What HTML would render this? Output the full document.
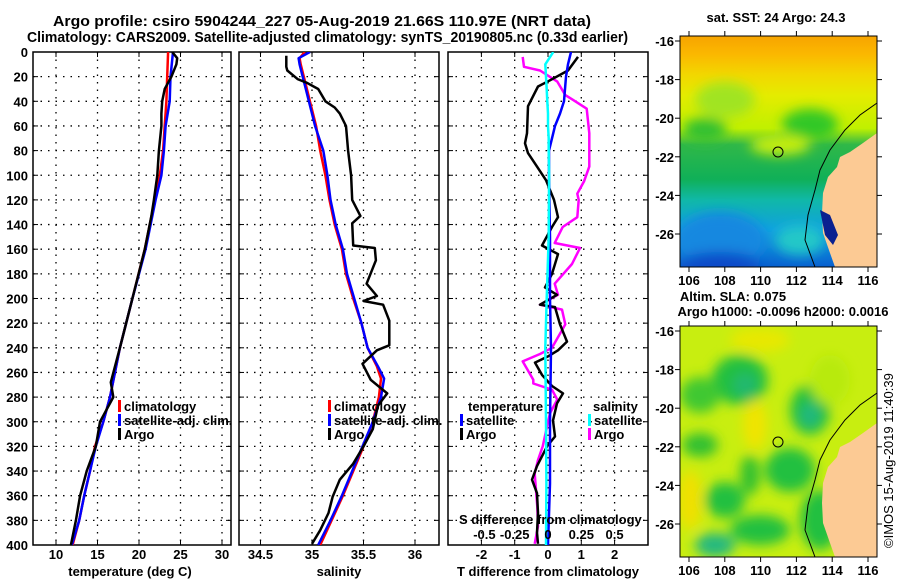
<!DOCTYPE html>
<html><head><meta charset="utf-8"><style>
html,body{margin:0;padding:0;background:#fff}
svg{display:block}
text{font-family:"Liberation Sans",Arial,sans-serif;font-weight:bold;fill:#000}
.t{font-size:14.5px}.k{font-size:13px}
</style></head><body>
<svg id="c" width="900" height="580" viewBox="0 0 900 580" xmlns="http://www.w3.org/2000/svg">
<defs>
<clipPath id="cm1"><rect x="680" y="36" width="197" height="231"/></clipPath>
<clipPath id="cm2"><rect x="680" y="326" width="197" height="231"/></clipPath>
<clipPath id="cp1"><rect x="33" y="52" width="198" height="493"/></clipPath>
<clipPath id="cp2"><rect x="239" y="52" width="200" height="493"/></clipPath>
<clipPath id="cp3"><rect x="448" y="52" width="200" height="493"/></clipPath>
<filter id="bl" x="-50%" y="-50%" width="200%" height="200%"><feGaussianBlur stdDeviation="6"/></filter>
<linearGradient id="g1" x1="0" y1="0" x2="0" y2="1">
<stop offset="0" stop-color="#f7a400"/><stop offset="0.08" stop-color="#fbb800"/><stop offset="0.17" stop-color="#f2d800"/>
<stop offset="0.26" stop-color="#e4ec00"/><stop offset="0.4" stop-color="#c0f000"/><stop offset="0.47" stop-color="#30b848"/>
<stop offset="0.62" stop-color="#10b058"/><stop offset="0.71" stop-color="#10b8a8"/><stop offset="0.84" stop-color="#10a0e0"/><stop offset="1" stop-color="#0860d0"/>
</linearGradient>
</defs>
<text class="t" x="53" y="26" textLength="538" lengthAdjust="spacingAndGlyphs">Argo profile: csiro 5904244_227 05-Aug-2019 21.66S 110.97E (NRT data)</text>
<text class="t" x="27" y="42" textLength="601" lengthAdjust="spacingAndGlyphs">Climatology: CARS2009. Satellite-adjusted climatology: synTS_20190805.nc (0.33d earlier)</text>

<g>
<text class="k" x="776" y="22" text-anchor="middle">sat. SST: 24 Argo: 24.3</text>
<g clip-path="url(#cm1)">
<rect x="680" y="36" width="197" height="231" fill="url(#g1)"/>
<g filter="url(#bl)">
<ellipse cx="725" cy="100" rx="30" ry="18" fill="#a0e420"/>
<ellipse cx="810" cy="125" rx="28" ry="16" fill="#30c828"/>
<ellipse cx="705" cy="130" rx="22" ry="12" fill="#30c030"/>
<ellipse cx="780" cy="145" rx="30" ry="10" fill="#c8ef10"/>
<ellipse cx="720" cy="240" rx="45" ry="28" fill="#1888e0"/>
<ellipse cx="720" cy="264" rx="40" ry="12" fill="#0848c8"/>
<ellipse cx="800" cy="240" rx="25" ry="15" fill="#20c8c8"/>
</g>
<polygon points="877,133 863,143 850,152 840,157 837,167 828,177 823,193 822,213 823,233 830,253 835,267 877,267" fill="#fcca94"/>
<polyline points="877,103 860,115 845,130 830,150 820,170 815,190 808,215 805,240 815,267" fill="none" stroke="#000" stroke-width="1"/>
<polygon points="820,210 830,215 838,235 833,245 825,235" fill="#0a2090"/>
</g>
<rect x="680" y="36" width="197" height="231" fill="none" stroke="#000"/>
<circle cx="778" cy="152" r="5" fill="none" stroke="#000"/>
<g id="m1ticks"></g>
</g>

<g>
<text class="k" x="733" y="301" text-anchor="middle">Altim. SLA: 0.075</text>
<text class="k" x="783" y="316" text-anchor="middle">Argo h1000: -0.0096 h2000: 0.0016</text>
<g clip-path="url(#cm2)">
<rect x="680" y="326" width="197" height="231" fill="#c8ee10"/>
<g filter="url(#bl)">
<ellipse cx="740" cy="380" rx="28" ry="25" fill="#20c040"/>
<ellipse cx="700" cy="395" rx="20" ry="18" fill="#40c830"/>
<ellipse cx="745" cy="385" rx="12" ry="12" fill="#20b870"/>
<ellipse cx="810" cy="410" rx="20" ry="25" fill="#20c040"/>
<ellipse cx="810" cy="415" rx="10" ry="12" fill="#20b880"/>
<ellipse cx="700" cy="445" rx="18" ry="12" fill="#30c030"/>
<ellipse cx="790" cy="470" rx="25" ry="22" fill="#20c040"/>
<ellipse cx="750" cy="475" rx="10" ry="20" fill="#30c030"/>
<ellipse cx="725" cy="500" rx="20" ry="18" fill="#20c040"/>
<ellipse cx="760" cy="530" rx="30" ry="15" fill="#20c040"/>
<ellipse cx="715" cy="545" rx="20" ry="12" fill="#20b880"/>
<ellipse cx="690" cy="500" rx="12" ry="30" fill="#f0e000"/>
<ellipse cx="755" cy="425" rx="12" ry="25" fill="#f0e400"/>
<ellipse cx="760" cy="340" rx="30" ry="12" fill="#e8e800"/>
<ellipse cx="830" cy="380" rx="20" ry="25" fill="#b8ea10"/>
<ellipse cx="820" cy="520" rx="20" ry="30" fill="#20c040"/>
</g>
<polygon points="877,423 863,433 850,442 840,447 837,457 828,467 823,483 822,503 823,523 830,543 835,557 877,557" fill="#fcca94"/>
<polyline points="877,393 860,405 845,420 830,440 820,460 815,480 808,505 805,530 815,557" fill="none" stroke="#000" stroke-width="1"/>
</g>
<rect x="680" y="326" width="197" height="231" fill="none" stroke="#000"/>
<circle cx="778" cy="442" r="5" fill="none" stroke="#000"/>
<g id="m2ticks"></g>
</g>
<text x="893" y="548" transform="rotate(-90 893 548)" style="font-size:13px;font-weight:normal">©IMOS 15-Aug-2019 11:40:39</text>
<g id="plots"></g>
</svg>
<script>
// ---- data (depth in dbar) ----
const tDepth = [0,5,10,20,30,40,50,60,80,100,120,133,160,200,240,268,280,300,320,340,360,380,400];
const tArgo  = [24.0,24.6,24.5,23.9,23.1,22.8,22.7,22.7,22.4,22.2,21.8,21.5,20.7,19.2,17.7,16.6,16.9,15.3,14.8,13.7,12.9,12.4,11.8];
const cDepth = [0,20,40,60,80,100,120,160,200,240,280,300,320,340,360,380,400];
const tClim  = [23.5,23.4,23.3,23.1,22.9,22.5,21.9,20.7,19.2,17.7,16.5,15.7,14.7,14.1,13.4,12.8,12.0];
const tSat   = [24.1,23.8,23.7,23.2,23.0,22.7,22.0,20.8,19.2,17.7,16.5,15.7,14.8,14.1,13.4,12.8,11.9];
const sDepth = [3,12,15,22,25,30,40,45,50,60,80,100,120,133,139,157,159,169,188,198,202,205,218,238,242,253,266,277,287,306,320,334,347,361,374,388,399];
const sArgo  = [34.75,34.75,34.76,34.86,34.95,35.06,35.13,35.22,35.27,35.33,35.35,35.38,35.39,35.47,35.39,35.40,35.61,35.62,35.53,35.63,35.50,35.69,35.75,35.75,35.63,35.49,35.57,35.73,35.64,35.59,35.50,35.40,35.27,35.20,35.16,35.08,35.00];
const sClimDepth = [0,5,10,20,30,40,60,80,100,120,140,160,180,200,220,240,255,265,280,300,320,340,360,380,400];
const sClim  = [34.93,34.88,34.89,34.92,34.95,34.98,35.04,35.08,35.13,35.17,35.22,35.29,35.33,35.40,35.48,35.54,35.63,35.67,35.65,35.59,35.50,35.40,35.30,35.19,35.08];
const sSat   = [34.98,34.87,34.88,34.91,34.94,34.97,35.03,35.11,35.15,35.18,35.23,35.30,35.34,35.41,35.48,35.54,35.64,35.70,35.67,35.59,35.49,35.39,35.29,35.18,35.06];
const dTDepth = [4,15,23,28,44,66,74,82,93,104,120,134,142,157,164,180,191,197,205,207,221,235,242,247,252,262,271,277,285,299,312,320,336,347,358,374,390,399];
const dTArgo  = [0.90,0.60,0.06,-0.30,-0.60,-0.63,-0.69,-0.60,-0.33,-0.06,0.18,0.30,0.12,-0.18,0.30,0.12,-0.09,0.27,-0.24,0.21,0.36,0.57,0.30,0.00,-0.39,-0.18,0.12,0.45,0.27,0.15,0.21,-0.03,-0.33,-0.48,-0.33,-0.30,-0.33,-0.30];
const dSatDepth = [0,10,20,30,40,50,60,70,80,100,150,200,240,300,350,400];
const dTSat   = [0.69,0.60,0.54,0.51,0.48,0.36,0.21,0.12,0.03,0.03,0.06,0.06,0.09,0.06,0.06,0.00];
const dSSat   = [0.04,-0.02,-0.015,-0.01,-0.005,0.0,0.0,0.005,0.005,0.008,0.005,-0.01,-0.02,-0.015,-0.012,-0.015];
const dSDepth = [4,12,15,24,35,39,46,66,93,105,115,120,134,142,155,159,172,188,197,205,209,221,240,245,251,266,269,274,282,293,320,331,342,369,385,399];
const dSArgo  = [-0.19,-0.18,-0.06,0.07,0.13,0.19,0.29,0.31,0.31,0.27,0.22,0.23,0.22,0.11,0.05,0.24,0.18,0.05,0.075,-0.06,0.105,0.13,0.03,-0.06,-0.19,-0.11,-0.11,0.03,0.07,0.015,-0.04,-0.075,-0.10,-0.08,-0.075,-0.10];
const depthTicks = [0,20,40,60,80,100,120,140,160,180,200,220,240,260,280,300,320,340,360,380,400];
const tTicks = [10,15,20,25,30];
const sTicks = [34.5,35,35.5,36];
const dTTicks = [-2,-1,0,1,2];
const dSTickLabels = ['-0.5','-0.25','0','0.25','0.5'];
const lonTicks = [106,108,110,112,114,116];
const latTicks = [-16,-18,-20,-22,-24,-26];

const NS='http://www.w3.org/2000/svg';
const root=document.getElementById('plots');
function el(tag,attrs,parent,txt){const e=document.createElementNS(NS,tag);for(const k in attrs)e.setAttribute(k,attrs[k]);if(txt!==undefined)e.textContent=txt;(parent||root).appendChild(e);return e;}
const yD = d => 52 + d*493/400;
const xT = v => 56 + (v-10)*8.3;
const xS = v => 312 + (v-35)*103;
const xDT = v => 548 + v*33.3;
const xDS = v => 548 + v*133.3;
const xLon = v => 689 + (v-106)*17.9;
const yLat1 = v => 41 + (-16-v)*19.3;
const yLat2 = v => 331 + (-16-v)*19.3;

function panel(name,x0,x1,gridX){
  const g=el('g',{});
  
  
  depthTicks.forEach(d=>{if(d>0&&d<400){const l=el('line',{x1:x0,x2:x1,y1:yD(d),y2:yD(d),stroke:'#000','stroke-width':1.3,'stroke-dasharray':'1.5 6'},g);}});
  gridX.forEach(x=>{const l=el('line',{x1:x,x2:x,y1:52,y2:545,stroke:'#000','stroke-width':1.3,'stroke-dasharray':'1.5 6'},g);});
  depthTicks.forEach(d=>{el('line',{x1:x0,x2:x0+5,y1:yD(d),y2:yD(d),stroke:'#000'},g);el('line',{x1:x1-5,x2:x1,y1:yD(d),y2:yD(d),stroke:'#000'},g);});
  gridX.forEach(x=>{el('line',{x1:x,x2:x,y1:545,y2:540,stroke:'#000'},g);el('line',{x1:x,x2:x,y1:52,y2:57,stroke:'#000'},g);});
  const f=el('rect',{x:x0,y:52,width:x1-x0,height:493,fill:'none',stroke:'#000','stroke-width':1.5},g);
  
  
  return g;
}
function line(g,xs,ys,fx,color,clip,name,w){
  const pts=xs.map((v,i)=>fx(v).toFixed(1)+','+yD(ys[i]).toFixed(1)).join(' ');
  const p=el('polyline',{points:pts,fill:'none',stroke:color,'stroke-width':w||2.5,'clip-path':'url(#'+clip+')','stroke-linejoin':'round'},g);
  
  
}
function legend(g,x,y,items){
  items.forEach((it,i)=>{
    el('rect',{x:x,y:y+i*14-11,width:3,height:12,fill:it[1]},g);
    const t=el('text',{x:x+6,y:y+i*14,class:'k'},g,it[0]);
    
    
  });
}
depthTicks.forEach(d=>{const t=el('text',{x:28,y:yD(d)+5,class:'k','text-anchor':'end'},root,String(d));});

const g1=panel('temperature-panel',33,231,tTicks.map(xT));
line(g1,tClim,cDepth,xT,'#ff0000','cp1','temp-climatology-line');
line(g1,tSat,cDepth,xT,'#0000ff','cp1','temp-satellite-line');
line(g1,tArgo,tDepth,xT,'#000','cp1','temp-argo-line');
tTicks.forEach(v=>{const t=el('text',{x:xT(v),y:559,class:'k','text-anchor':'middle'},g1,String(v));});
el('text',{x:130,y:576,class:'k','text-anchor':'middle',},g1,'temperature (deg C)');
legend(g1,118,411,[['climatology','#f00'],['satellite-adj. clim.','#00f'],['Argo','#000']]);

const g2=panel('salinity-panel',239,439,sTicks.map(xS));
line(g2,sClim,sClimDepth,xS,'#ff0000','cp2','sal-climatology-line');
line(g2,sSat,sClimDepth,xS,'#0000ff','cp2','sal-satellite-line');
line(g2,sArgo,sDepth,xS,'#000','cp2','sal-argo-line');
sTicks.forEach(v=>{const t=el('text',{x:xS(v),y:559,class:'k','text-anchor':'middle'},g2,String(v));});
el('text',{x:339,y:576,class:'k','text-anchor':'middle',},g2,'salinity');
legend(g2,328,411,[['climatology','#f00'],['satellite-adj. clim.','#00f'],['Argo','#000']]);

const g3=panel('difference-panel',448,648,dTTicks.map(xDT));
line(g3,dSArgo,dSDepth,xDS,'#ff00ff','cp3','sdiff-argo-line');
line(g3,dTArgo,dTDepth,xDT,'#000','cp3','tdiff-argo-line');
line(g3,dTSat,dSatDepth,xDT,'#0000ff','cp3','tdiff-satellite-line');
line(g3,dSSat,dSatDepth,xDS,'#00ffff','cp3','sdiff-satellite-line');
dTTicks.forEach(v=>{const t=el('text',{x:xDT(v),y:559,class:'k','text-anchor':'middle'},g3,String(v));});
dSTickLabels.forEach((s,i)=>{const t=el('text',{x:xDT(dTTicks[i])+ (i==0?3:0),y:539,class:'k','text-anchor':'middle'},g3,s);});
el('text',{x:459,y:524,class:'k',},g3,'S difference from climatology');
el('text',{x:548,y:576,class:'k','text-anchor':'middle',},g3,'T difference from climatology');
el('text',{x:468,y:411,class:'k',},g3,'temperature');
el('text',{x:593,y:411,class:'k',},g3,'salinity');
legend(g3,460,425,[['satellite','#00f'],['Argo','#000']]);
legend(g3,588,425,[['satellite','#0ff'],['Argo','#f0f']]);

function mapTicks(id,y0,y1,yLat,labY){
  const g=document.getElementById(id);
  lonTicks.forEach(v=>{const x=xLon(v);el('line',{x1:x,x2:x,y1:y1,y2:y1+5,stroke:'#000'},g);el('line',{x1:x,x2:x,y1:y0,y2:y0-5,stroke:'#000'},g);
    const t=el('text',{x:x,y:labY,class:'k','text-anchor':'middle'},g,String(v));});
  latTicks.forEach(v=>{const y=yLat(v);el('line',{x1:675,x2:680,y1:y,y2:y,stroke:'#000'},g);el('line',{x1:877,x2:882,y1:y,y2:y,stroke:'#000'},g);
    const t=el('text',{x:674,y:y+5,class:'k','text-anchor':'end'},g,String(v));});
}
mapTicks('m1ticks',36,267,yLat1,285);
mapTicks('m2ticks',326,557,yLat2,575);
</script>
</body></html>
